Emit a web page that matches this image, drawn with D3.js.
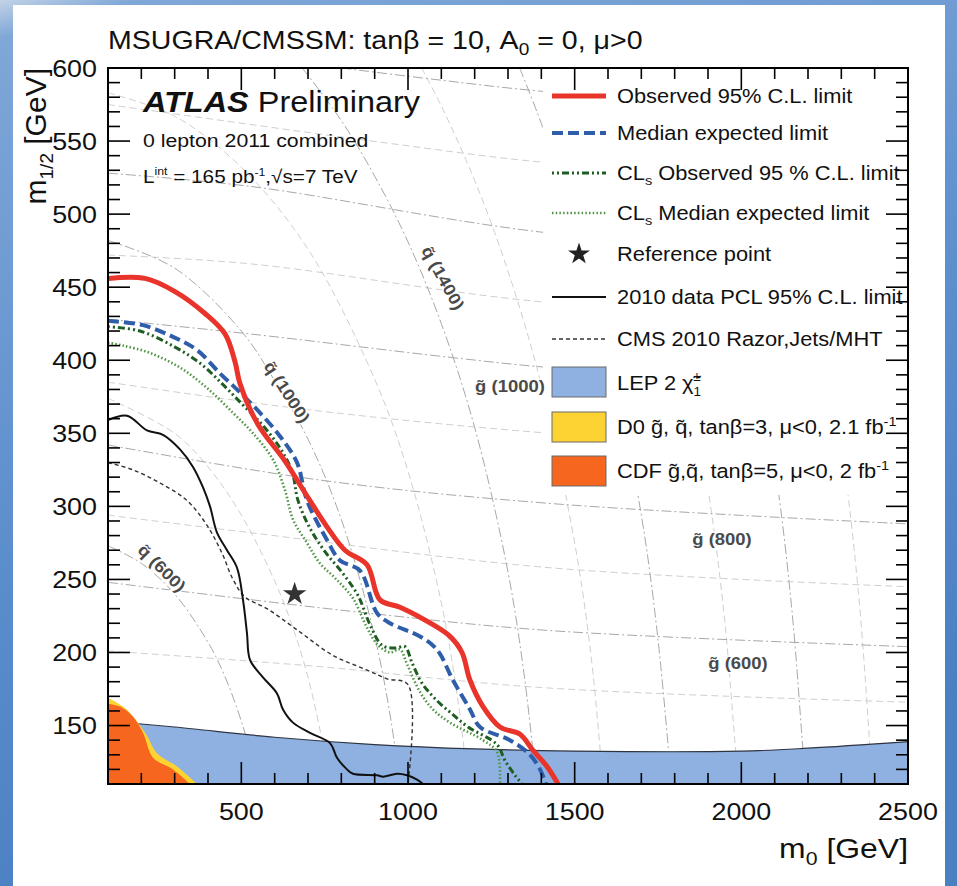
<!DOCTYPE html>
<html>
<head>
<meta charset="utf-8">
<script src="https://cdn.jsdelivr.net/npm/d3@7"></script>
<style>
  body { margin: 0; }
  svg text { font-family: "Liberation Sans", Arial, Helvetica, sans-serif; }
</style>
</head>
<body>
<svg id="chart" width="957" height="886"></svg>
<script>
// ---- data (m0, m1/2) in GeV ----
const xMajor = [500, 1000, 1500, 2000, 2500];
const yMajor = [150, 200, 250, 300, 350, 400, 450, 500, 550, 600];

const observed = [[100,456],[211,456],[301,447],[391,432],[451,418],[481,399],[496,384],[550,356],
  [631,331],[700,306],[757,286],[811,270],[877,260],[916,236],[976,231],[1075,219],[1126,211],
  [1162,200],[1186,181],[1225,163],[1276,149],[1336,144],[1375,133],[1417,122],[1450,110]];
const expected = [[100,427],[205,424],[295,416],[367,407],[436,391],[496,378],[556,364],[616,348],
  [667,330],[697,304],[757,277],[796,263],[856,256],[907,227],[946,220],[1036,211],[1087,202],
  [1135,181],[1186,161],[1216,149],[1306,140],[1366,130],[1396,120],[1414,110]];
const clsObserved = [[100,423],[196,420],[301,409],[376,398],[442,384],[502,370],[562,356],[616,340],
  [652,324],[670,304],[706,285],[751,269],[805,254],[850,239],[886,219],[922,205],[961,203],
  [991,204],[1012,193],[1042,179],[1087,167],[1132,158],[1180,149],[1267,137],[1291,126],
  [1321,116],[1342,110]];
const clsExpected = [[100,412],[145,410],[226,405],[316,395],[397,381],[475,364],[535,350],[595,332],
  [631,311],[655,291],[697,275],[736,261],[781,251],[835,237],[877,217],[910,205],[946,200],
  [976,202],[997,192],[1036,173],[1075,161],[1126,152],[1225,140],[1267,132],[1276,110]];
const pcl2010 = [[100,359],[157,362],[217,352],[265,349],[316,339],[355,327],[385,313],[406,300],
  [427,282],[457,270],[487,258],[505,236],[517,213],[526,195],[565,183],[607,172],[625,161],
  [655,152],[706,145],[766,138],[787,128],[817,120],[835,117],[907,116],[925,115],[967,117],
  [997,116],[1027,113],[1045,110]];
const cms2010 = [[100,330],[175,325],[256,316],[337,304],[397,287],[442,268],[475,250],[511,238],
  [577,230],[676,214],[775,198],[877,188],[937,182],[1000,178],[1000,110]];
const refPoint = [660, 240];

const lepTop = [[100,153],[300,149],[600,142],[900,137],[1200,134],[1500,132.5],[2000,132.5],[2200,134.5],[2500,139]];
const d0Edge = [[100,169],[151,162],[190,152],[217,143],[247,131],[307,122],[367,110]];
const cdfEdge = [[100,165],[136,163],[175,156],[205,145],[235,128],[295,120],[346,110]];

// squark iso-mass curves
const sq600  = [[100,273],[200,261],[300,240],[400,207],[450,184],[500,153],[540,121],[552,110]];
const sq800  = [[100,374],[300,350],[400,327],[500,294],[600,249],[650,220],[700,183],[750,131],[765,110]];
const sq1000 = [[100,482],[300,463],[500,420],[600,386],[700,346],[800,291],[900,211],[950,152],[975,110]];
const sq1200 = [[100,583],[300,567],[500,532],[700,476],[900,387],[1000,324],[1100,234],[1150,167],[1180,110]];
const sq1400 = [[683,600],[800,564],[900,526],[1000,481],[1100,425],[1200,354],[1300,255],[1350,182],[1385,110]];
const sq1600 = [[1041,600],[1100,574],[1200,523],[1300,461],[1400,383],[1500,275],[1550,196],[1585,110]];
const sq1800 = [[1335,600],[1400,562],[1500,494],[1600,410],[1700,294],[1750,209],[1790,110]];
const sq2000 = [[1600,600],[1700,527],[1800,436],[1900,312],[1950,222],[1980,141],[1992,110]];
const sq2200 = [[1844,600],[1900,555],[2000,458],[2100,328],[2150,233],[2180,148],[2192,110]];
const sq2400 = [[2078,600],[2100,581],[2200,480],[2300,343],[2350,244],[2380,155],[2392,110]];
// gluino iso-mass curves
const gl500  = [[100,201],[700,191],[1400,176],[2500,166]];
const gl600  = [[100,248],[877,227],[1426,215],[2500,204]];
const gl700  = [[100,294],[526,282],[1426,258],[2500,245]];
const gl800  = [[100,342],[736,318],[1426,302],[2500,288]];
const gl900  = [[100,385],[706,366],[1426,350],[2500,335]];
const gl1000 = [[100,428],[526,418],[1126,402],[1426,395],[2500,380]];
const gl1100 = [[100,472],[526,466],[1400,440],[2500,425]];
const gl1200 = [[100,528],[526,519],[1426,487],[2500,470]];
const gl1300 = [[100,575],[925,549],[1426,535],[2500,518]];
const gl1400 = [[800,600],[1087,592],[1405,584],[2500,566]];

const darkGrid = [sq600, sq1000, sq1400, sq1800, sq2200, gl600, gl800, gl1000, gl1200, gl1400];
const lightGrid = [sq800, sq1200, sq1600, sq2000, sq2400, gl500, gl700, gl900, gl1100, gl1300];

// ---- setup ----
const svg = d3.select("#chart");
const W = +svg.attr("width"), H = +svg.attr("height");
const plot = { left: 108, right: 908, top: 68, bottom: 784 };
const SX = 1.12;   // the source picture is a bit stretched sideways

const x = d3.scaleLinear().domain([100, 2500]).range([plot.left, plot.right]);
const y = d3.scaleLinear().domain([110, 600]).range([plot.bottom, plot.top]);

const defs = svg.append("defs");
const sky = defs.append("linearGradient").attr("id", "sky")
  .attr("x1", 0).attr("y1", 0).attr("x2", 0.3).attr("y2", 1);
sky.append("stop").attr("offset", "0%").attr("stop-color", "#c3d3e7");
sky.append("stop").attr("offset", "4%").attr("stop-color", "#7fa7d7");
sky.append("stop").attr("offset", "60%").attr("stop-color", "#5a8dcc");
sky.append("stop").attr("offset", "100%").attr("stop-color", "#4a7fc2");
defs.append("clipPath").attr("id", "plotclip").append("rect")
  .attr("x", plot.left).attr("y", plot.top)
  .attr("width", plot.right - plot.left).attr("height", plot.bottom - plot.top);

svg.append("rect").attr("width", W).attr("height", H).attr("fill", "url(#sky)");
svg.append("rect").attr("x", 13).attr("y", 5).attr("width", 932).attr("height", H - 5).attr("fill", "#fff");

const line = d3.line().x(d => x(d[0])).y(d => y(d[1])).curve(d3.curveCatmullRom.alpha(0.5));
const area = d3.area().x(d => x(d[0])).y0(y(110)).y1(d => y(d[1])).curve(d3.curveCatmullRom.alpha(0.5));

const g = svg.append("g").attr("clip-path", "url(#plotclip)");

// grid of iso-mass curves
g.selectAll("path.lgrid").data(lightGrid).join("path")
  .attr("class", "lgrid").attr("d", line)
  .attr("fill", "none").attr("stroke", "#cfcfcf").attr("stroke-width", 1)
  .attr("stroke-dasharray", "7,4");
g.selectAll("path.dgrid").data(darkGrid).join("path")
  .attr("class", "dgrid").attr("d", line)
  .attr("fill", "none").attr("stroke", "#a8a8a8").attr("stroke-width", 1)
  .attr("stroke-dasharray", "10,3,2,3");

// legend box hides the grid
g.append("rect").attr("x", 543).attr("y", plot.top).attr("width", plot.right - 543).attr("height", 495 - plot.top)
  .attr("fill", "#fff");

// grid labels
function gridLabel(tx, ty, rot, str) {
  g.append("text")
    .attr("transform", `translate(${tx},${ty}) rotate(${rot}) scale(${SX},1)`)
    .attr("text-anchor", "middle").attr("dy", "0.35em")
    .attr("font-size", 16.5).attr("font-weight", "bold").attr("fill", "#4a4a4a")
    .attr("stroke", "#fff").attr("stroke-width", 3).attr("paint-order", "stroke")
    .text(str);
}
gridLabel(162, 568, 45, "q\u0303 (600)");
gridLabel(287, 392, 57, "q\u0303 (1000)");
gridLabel(443, 278, 61, "q\u0303 (1400)");
gridLabel(510, 386, 0, "g\u0303 (1000)");
gridLabel(722, 539, 0, "g\u0303 (800)");
gridLabel(738, 663, 0, "g\u0303 (600)");

// excluded regions
g.append("path").attr("d", area(lepTop)).attr("fill", "#8eb1e2");
g.append("path").attr("d", line(lepTop)).attr("fill", "none").attr("stroke", "#2e3440").attr("stroke-width", 1.2);
g.append("path").attr("d", area(d0Edge)).attr("fill", "#fdd233");
g.append("path").attr("d", area(cdfEdge)).attr("fill", "#f6661e");

// limit curves
const styles = {
  cms: { stroke: "#333", width: 1.4, dash: "4,3" },
  pcl: { stroke: "#111", width: 2, dash: null },
  clsExp: { stroke: "#4f9442", width: 2.6, dash: "1.5,2.2" },
  clsObs: { stroke: "#1f5e22", width: 3, dash: "2,3,2,3,7,3" },
  exp: { stroke: "#2e5ea9", width: 4, dash: "11,5" },
  obs: { stroke: "#e8342a", width: 5, dash: null }
};
const curves = [[cms2010, "cms"], [pcl2010, "pcl"], [clsExpected, "clsExp"], [clsObserved, "clsObs"],
  [expected, "exp"], [observed, "obs"]];
curves.forEach(([pts, key]) => {
  const s = styles[key];
  g.append("path").attr("d", line(pts)).attr("fill", "none")
    .attr("stroke", s.stroke).attr("stroke-width", s.width)
    .attr("stroke-dasharray", s.dash).attr("stroke-linejoin", "round");
});

const star = d3.symbol(d3.symbolStar, 170);
g.append("path").attr("d", star()).attr("transform", `translate(${x(refPoint[0])},${y(refPoint[1])})`)
  .attr("fill", "#333");

// ---- frame and ticks ----
svg.append("rect").attr("x", plot.left).attr("y", plot.top)
  .attr("width", plot.right - plot.left).attr("height", plot.bottom - plot.top)
  .attr("fill", "none").attr("stroke", "#000").attr("stroke-width", 2);

const xTickVals = d3.range(200, 2500, 100);
const yTickVals = d3.range(120, 600, 10);
const xLen = v => (v % 500 === 0 ? 22 : 11);
const yLen = v => (v % 50 === 0 ? 22 : 12);
const tk = svg.append("g").attr("stroke", "#000").attr("stroke-width", 1.6);
tk.selectAll("line.xb").data(xTickVals).join("line").attr("class", "xb")
  .attr("x1", d => x(d)).attr("x2", d => x(d)).attr("y1", plot.bottom).attr("y2", d => plot.bottom - xLen(d));
tk.selectAll("line.xt").data(xTickVals).join("line").attr("class", "xt")
  .attr("x1", d => x(d)).attr("x2", d => x(d)).attr("y1", plot.top).attr("y2", d => plot.top + xLen(d));
tk.selectAll("line.yl").data(yTickVals).join("line").attr("class", "yl")
  .attr("y1", d => y(d)).attr("y2", d => y(d)).attr("x1", plot.left).attr("x2", d => plot.left + yLen(d));
tk.selectAll("line.yr").data(yTickVals).join("line").attr("class", "yr")
  .attr("y1", d => y(d)).attr("y2", d => y(d)).attr("x1", plot.right).attr("x2", d => plot.right - yLen(d));

// tick labels
svg.append("g").selectAll("text").data(xMajor).join("text")
  .attr("transform", d => `translate(${x(d)},${plot.bottom + 36}) scale(${SX},1)`)
  .attr("text-anchor", "middle").attr("font-size", 24).attr("fill", "#111")
  .text(d3.format("d"));
svg.append("g").selectAll("text").data(yMajor).join("text")
  .attr("transform", d => `translate(97,${y(d)}) scale(${SX},1)`)
  .attr("text-anchor", "end").attr("dy", "0.36em").attr("font-size", 24).attr("fill", "#111")
  .text(d3.format("d"));

// ---- texts ----
function txt(tx, ty, size) {
  return svg.append("text").attr("transform", `translate(${tx},${ty}) scale(${SX},1)`)
    .attr("font-size", size).attr("fill", "#111");
}
function sub(t, s, size, shift) {
  t.append("tspan").attr("font-size", size).attr("dy", shift).text(s);
  return t;
}

let t = txt(108, 49, 25.5);
t.append("tspan").text("MSUGRA/CMSSM: tan\u03b2 = 10, A");
sub(t, "0", 17, 6);
t.append("tspan").attr("dy", -6).text(" = 0, \u03bc>0");

t = txt(plot.right, 858, 28.5).attr("text-anchor", "end");
t.append("tspan").text("m");
sub(t, "0", 19, 7);
t.append("tspan").attr("dy", -7).text(" [GeV]");

t = svg.append("text").attr("transform", "translate(46,68) rotate(-90)")
  .attr("text-anchor", "end").attr("font-size", 30).attr("fill", "#111");
t.append("tspan").text("m");
sub(t, "1/2", 19, 7);
t.append("tspan").attr("dy", -7).text(" [GeV]");

t = txt(143, 112, 29);
t.append("tspan").attr("font-weight", "bold").attr("font-style", "italic").text("ATLAS");
t.append("tspan").text(" Preliminary");

txt(143, 147, 19).text("0 lepton 2011 combined");

t = txt(143, 183, 18.5);
t.append("tspan").text("L");
sub(t, "int", 11, -8);
t.append("tspan").attr("dy", 8).text(" = 165 pb");
sub(t, "-1", 11, -7);
t.append("tspan").attr("dy", 7).text(",\u221as=7 TeV");

// ---- legend ----
const legendLines = [
  ["obs", "Observed 95% C.L. limit", 96],
  ["exp", "Median expected limit", 133],
  ["clsObs", "CL|s| Observed 95 % C.L. limit", 173],
  ["clsExp", "CL|s| Median expected limit", 213],
  ["star", "Reference point", 254],
  ["pcl", "2010 data PCL 95% C.L. limit", 297],
  ["cms", "CMS 2010 Razor,Jets/MHT", 339]
];
const lx0 = 552, lx1 = 606, ltx = 617, lfs = 19.5;
legendLines.forEach(([key, label, ly]) => {
  if (key === "star") {
    svg.append("path").attr("d", d3.symbol(d3.symbolStar, 150)())
      .attr("transform", `translate(${(lx0 + lx1) / 2},${ly})`).attr("fill", "#222");
  } else {
    const s = styles[key];
    svg.append("line").attr("x1", lx0).attr("x2", lx1).attr("y1", ly).attr("y2", ly)
      .attr("stroke", s.stroke).attr("stroke-width", s.width).attr("stroke-dasharray", s.dash);
  }
  const tt = txt(ltx, ly + 7, lfs);
  const parts = label.split("|");
  tt.append("tspan").text(parts[0]);
  if (parts.length > 1) {
    sub(tt, parts[1], 13, 5);
    tt.append("tspan").attr("dy", -5).text(parts[2]);
  }
});

const legendBoxes = [
  ["#8eb1e2", 367],
  ["#fdd233", 412],
  ["#f6661e", 456]
];
legendBoxes.forEach(([c, by]) => {
  svg.append("rect").attr("x", lx0).attr("y", by).attr("width", lx1 - lx0).attr("height", 30)
    .attr("fill", c).attr("stroke", "#6b6b6b").attr("stroke-width", 1);
});
t = txt(ltx, 390, lfs);
t.append("tspan").text("LEP 2 \u03c7\u0303");
t.append("tspan").attr("font-size", 12).attr("dy", 6).text("1");
t.append("tspan").attr("font-size", 12).attr("dx", -7).attr("dy", -15).text("\u00b1");
t = txt(ltx, 434, lfs);
t.append("tspan").text("D0 g\u0303, q\u0303, tan\u03b2=3, \u03bc<0, 2.1 fb");
sub(t, "-1", 13, -8);
t = txt(ltx, 478, lfs);
t.append("tspan").text("CDF g\u0303,q\u0303, tan\u03b2=5, \u03bc<0, 2 fb");
sub(t, "-1", 13, -8);
</script>
</body>
</html>
